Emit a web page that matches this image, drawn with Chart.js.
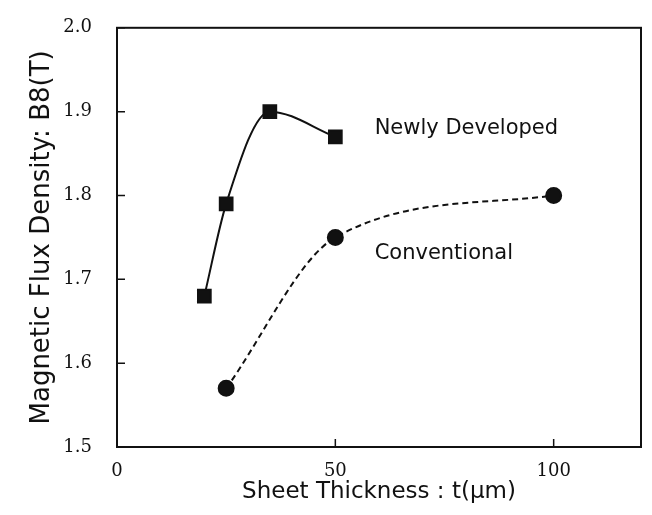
<!DOCTYPE html>
<html>
<head>
<meta charset="utf-8">
<script src="https://cdn.jsdelivr.net/npm/chart.js@4/dist/chart.umd.min.js"></script>
<style>
  html, body { margin: 0; padding: 0; background: #fff; }
  #wrap { width: 652px; height: 515px; }
</style>
</head>
<body>
<div id="wrap"><canvas id="myChart"></canvas></div>
<script>
// thickness (um) / B8 (T)
const newlyX = [20, 25, 35, 50];
const newlyY = [1.68, 1.79, 1.90, 1.87];
const convX = [25, 50, 100];
const convY = [1.57, 1.75, 1.80];
const xTicks = [0, 50, 100];
const yTicks = [1.5, 1.6, 1.7, 1.8, 1.9, 2.0];
const seriesLabels = ['Newly Developed', 'Conventional'];
const labelPos = [[59, 1.880], [59, 1.731]];

const toPoints = (xs, ys) => xs.map((x, i) => ({ x: x, y: ys[i] }));

// frame + inward ticks + curve labels
const framePlugin = {
  id: 'frame',
  afterDraw(chart) {
    const ctx = chart.ctx;
    const a = chart.chartArea;
    const sx = chart.scales.x, sy = chart.scales.y;
    ctx.save();
    ctx.strokeStyle = '#111';
    ctx.lineWidth = 2;
    ctx.strokeRect(a.left, a.top, a.right - a.left, a.bottom - a.top);
    ctx.lineWidth = 1.5;
    ctx.beginPath();
    xTicks.forEach(v => {
      const px = sx.getPixelForValue(v);
      ctx.moveTo(px, a.bottom);
      ctx.lineTo(px, a.bottom - 8);
    });
    yTicks.forEach(v => {
      const py = sy.getPixelForValue(v);
      ctx.moveTo(a.left, py);
      ctx.lineTo(a.left + 8, py);
    });
    ctx.stroke();
    ctx.fillStyle = '#111';
    ctx.font = '21px "DejaVu Sans", sans-serif';
    ctx.textBaseline = 'middle';
    seriesLabels.forEach((t, i) => {
      ctx.fillText(t, sx.getPixelForValue(labelPos[i][0]), sy.getPixelForValue(labelPos[i][1]));
    });
    ctx.restore();
  }
};

const data = {
  datasets: [{
    label: seriesLabels[0],
    data: toPoints(newlyX, newlyY),
    borderColor: '#111',
    backgroundColor: '#111',
    borderWidth: 2,
    pointStyle: 'rect',
    pointRadius: 9,
    cubicInterpolationMode: 'monotone'
  }, {
    label: seriesLabels[1],
    data: toPoints(convX, convY),
    borderColor: '#111',
    backgroundColor: '#111',
    borderWidth: 2,
    borderDash: [6, 4],
    pointStyle: 'circle',
    pointRadius: 7.5,
    cubicInterpolationMode: 'monotone'
  }]
};

const config = {
  type: 'line',
  data: data,
  options: {
    responsive: true,
    maintainAspectRatio: false,
    animation: false,
    layout: { padding: { top: 23, right: 2, left: 0, bottom: 0 } },
    plugins: { legend: { display: false }, tooltip: { enabled: false } },
    scales: {
      x: {
        type: 'linear',
        min: 0,
        max: 120,
        afterBuildTicks: s => { s.ticks = xTicks.map(v => ({ value: v })); },
        afterFit: s => { s.height = 68; s.paddingLeft = 0; s.paddingRight = 0; },
        grid: { display: false },
        border: { display: false },
        ticks: {
          padding: 6,
          color: '#111',
          font: { family: '"DejaVu Serif", serif', size: 18 }
        },
        title: {
          display: true,
          text: 'Sheet Thickness : t(μm)',
          color: '#111',
          font: { family: '"DejaVu Sans", sans-serif', size: 23 },
          padding: { top: 0, bottom: 9 }
        }
      },
      y: {
        min: 1.5,
        max: 2.0,
        afterBuildTicks: s => { s.ticks = yTicks.map(v => ({ value: v })); },
        afterFit: s => { s.width = 117; },
        grid: { display: false },
        border: { display: false },
        ticks: {
          padding: 17,
          color: '#111',
          font: { family: '"DejaVu Serif", serif', size: 18 },
          callback: v => v.toFixed(1)
        },
        title: {
          display: true,
          text: 'Magnetic Flux Density: B8(T)',
          color: '#111',
          font: { family: '"DejaVu Sans", sans-serif', size: 26 },
          padding: 27
        }
      }
    }
  },
  plugins: [framePlugin]
};

const myChart = new Chart(document.getElementById('myChart'), config);
</script>
</body>
</html>
